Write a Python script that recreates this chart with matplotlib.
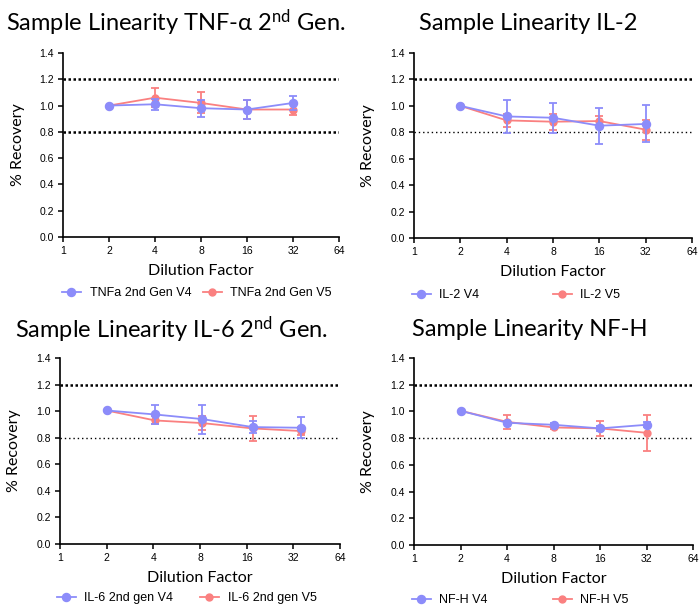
import numpy as np
import matplotlib.pyplot as plt
from matplotlib.lines import Line2D

plt.rcParams['font.family'] = ['Liberation Sans', 'DejaVu Sans']
plt.rcParams['mathtext.fontset'] = 'custom'
plt.rcParams['mathtext.rm'] = 'Lato'
plt.rcParams['mathtext.it'] = 'Lato:italic'

BLUE = '#8c8cfa'
RED = '#fa8080'
W, H = 699, 610

# dilution factors (the IL-6 run was plotted at slightly shifted dilutions)
dilution = [2, 4, 8, 16, 32]
il6_dilution = [2, 4.1, 8.3, 17.5, 36]

tnf_v4 = [1.00, 1.01, 0.98, 0.97, 1.02]
tnf_v4_err = [0, 0.04, 0.065, 0.07, 0.05]
tnf_v5 = [1.00, 1.06, 1.02, 0.97, 0.97]
tnf_v5_err = [0, 0.07, 0.08, 0.07, 0.04]

il2_v4 = [1.00, 0.92, 0.91, 0.85, 0.863]
il2_v4_err = [0, 0.125, 0.115, 0.135, 0.14]
il2_v5 = [1.00, 0.89, 0.88, 0.885, 0.82]
il2_v5_err = [0, 0.05, 0.06, 0.04, 0.075]

il6_v4 = [1.005, 0.975, 0.94, 0.88, 0.875]
il6_v4_err = [0, 0.07, 0.11, 0.045, 0.08]
il6_v5 = [1.005, 0.93, 0.91, 0.87, 0.85]
il6_v5_err = [0, 0.03, 0.05, 0.095, 0.03]

nfh_v4 = [1.005, 0.915, 0.90, 0.873, 0.90]
nfh_v4_err = [0, 0.012, 0.01, 0.02, 0.02]
nfh_v5 = [1.005, 0.922, 0.88, 0.873, 0.84]
nfh_v5_err = [0, 0.053, 0.01, 0.055, 0.137]

x_ticks = [1, 2, 4, 8, 16, 32, 64]
y_ticks = [0.0, 0.2, 0.4, 0.6, 0.8, 1.0, 1.2, 1.4]

panels = [
    dict(title=r'Sample Linearity TNF-α 2$^{\rm nd}$ Gen.', x=dilution,
         v4=tnf_v4, v4e=tnf_v4_err, v5=tnf_v5, v5e=tnf_v5_err,
         labels=['TNFa 2nd Gen V4', 'TNFa 2nd Gen V5'],
         rect=[63, 53, 339, 237], title_xy=(176, 23), ylab_x=25,
         leg=[(62, 293), (203, 293)], thick_low=True),
    dict(title='Sample Linearity IL-2', x=dilution,
         v4=il2_v4, v4e=il2_v4_err, v5=il2_v5, v5e=il2_v5_err,
         labels=['IL-2 V4', 'IL-2 V5'],
         rect=[414, 53, 692, 238], title_xy=(528, 23), ylab_x=375,
         leg=[(412, 295), (553, 295)], thick_low=False),
    dict(title=r'Sample Linearity IL-6 2$^{\rm nd}$ Gen.', x=il6_dilution,
         v4=il6_v4, v4e=il6_v4_err, v5=il6_v5, v5e=il6_v5_err,
         labels=['IL-6 2nd gen V4', 'IL-6 2nd gen V5'],
         rect=[60, 358, 340, 544], title_xy=(171, 330), ylab_x=21,
         leg=[(57, 598), (200, 598)], thick_low=False),
    dict(title='Sample Linearity NF-H', x=dilution,
         v4=nfh_v4, v4e=nfh_v4_err, v5=nfh_v5, v5e=nfh_v5_err,
         labels=['NF-H V4', 'NF-H V5'],
         rect=[414, 358, 693, 545], title_xy=(530, 330), ylab_x=375,
         leg=[(412, 600), (553, 600)], thick_low=False),
]

fig = plt.figure(figsize=(W / 100, H / 100), dpi=100)

for p in panels:
    x0, y0, x1, y1 = p['rect']
    ax = fig.add_axes([x0 / W, 1 - y1 / H, (x1 - x0) / W, (y1 - y0) / H])

    ax.axhline(1.2, color='black', lw=1.8, ls=(0, (1, 1)), zorder=1)
    if p['thick_low']:
        ax.axhline(0.8, color='black', lw=1.8, ls=(0, (1, 1)), zorder=1)
    else:
        ax.axhline(0.8, color='black', lw=1.0, ls=(0, (1, 2.1)), zorder=1)

    style = dict(marker='o', lw=1.3, elinewidth=1.3, capsize=2.6, capthick=1.3)
    ax.errorbar(p['x'], p['v5'], yerr=p['v5e'], color=RED, ms=5, zorder=3, **style)
    ax.errorbar(p['x'], p['v4'], yerr=p['v4e'], color=BLUE, ms=5.8, zorder=4, **style)

    ax.set_xscale('log', base=2)
    ax.set_xlim(1, 64)
    ax.set_ylim(0, 1.4)
    ax.set_xticks(x_ticks)
    ax.set_xticklabels([str(t) for t in x_ticks])
    ax.minorticks_off()
    ax.set_yticks(y_ticks)
    ax.set_yticklabels(['%.1f' % t for t in y_ticks])
    for s in ['top', 'right']:
        ax.spines[s].set_visible(False)
    for s in ['left', 'bottom']:
        ax.spines[s].set_linewidth(1.2)
    ax.tick_params(direction='out', length=3.5, width=1.1, labelsize=7.5, pad=3)

    ax.set_xlabel('Dilution Factor', family=['Lato', 'DejaVu Sans'], fontsize=11.5, labelpad=6)
    ax.set_ylabel('% Recovery', family=['Lato', 'DejaVu Sans'], fontsize=11.5)
    ax.yaxis.set_label_coords((p['ylab_x'] - x0) / (x1 - x0), 0.5)

    fig.text(p['title_xy'][0] / W, 1 - p['title_xy'][1] / H, p['title'],
             family=['Lato', 'DejaVu Sans'], fontsize=17, ha='center', va='center')

    for (lx, ly), lab, col, ms in zip(p['leg'], p['labels'], [BLUE, RED], [5.8, 5]):
        h = Line2D([], [], color=col, marker='o', ms=ms, lw=1.3)
        fig.legend([h], [lab], loc='center left', bbox_to_anchor=(lx / W, 1 - ly / H),
                   frameon=False, fontsize=9, borderpad=0, borderaxespad=0,
                   handlelength=1.5, handletextpad=0.7)

fig.savefig('out.png', dpi=100)
